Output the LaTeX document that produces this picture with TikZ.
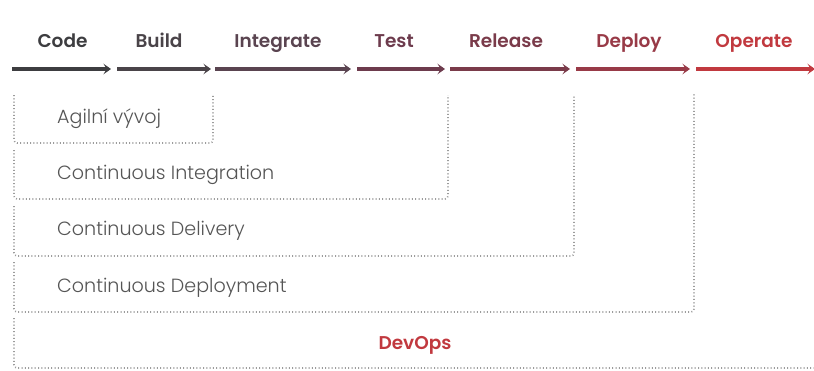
\documentclass[tikz,border=0pt]{standalone}
\usepackage{fontspec}
\setmainfont{Poppins}[BoldFont={Poppins SemiBold}]
\newfontfamily\lightfont{Poppins Light}
\usetikzlibrary{arrows.meta}
\definecolor{cCode}{HTML}{3D3D40}
\definecolor{cBuild}{HTML}{4A4449}
\definecolor{cInt}{HTML}{5A4450}
\definecolor{cTest}{HTML}{6D3B4D}
\definecolor{cRel}{HTML}{7A3B4A}
\definecolor{cDep}{HTML}{983A47}
\definecolor{cOp}{HTML}{C1393F}
\definecolor{dotgray}{HTML}{9C9C9C}
\definecolor{txtgray}{HTML}{555555}
\begin{document}
\begin{tikzpicture}[x=1pt,y=-1pt,
  stage/.style={font=\fontsize{18.5}{20}\selectfont\bfseries, anchor=base, inner sep=0pt},
  flow/.style={line width=3.2pt, -{Stealth[length=7.5pt,width=10.5pt,inset=3.2pt]}},
  zone/.style={draw=dotgray, line width=1.6pt, dash pattern=on 1pt off 2.3pt, rounded corners=3pt},
  zonetext/.style={font=\lightfont\fontsize{19.1}{21}\selectfont, text=txtgray, anchor=base west, inner sep=0pt}]
\useasboundingbox (0,0) rectangle (814,370);
% stage labels
\node[stage, text=cCode] (lCode) at (62.5,47) {Code};
\node[stage, text=cBuild] (lBuild) at (159,47) {Build};
\node[stage, text=cInt] (lInt) at (278,47) {Integrate};
\node[stage, text=cTest] (lTest) at (394,47) {Test};
\node[stage, text=cRel] (lRel) at (506,47) {Release};
\node[stage, text=cDep] (lDep) at (629,47) {Deploy};
\node[stage, text=cOp] (lOp) at (754,47) {Operate};
% arrow endpoints
\coordinate (a0) at (12,69);  \coordinate (a1) at (111,69);
\coordinate (b0) at (117,69); \coordinate (b1) at (211,69);
\coordinate (c0) at (215,69); \coordinate (c1) at (351,69);
\coordinate (d0) at (357,69); \coordinate (d1) at (445,69);
\coordinate (e0) at (450,69); \coordinate (e1) at (570,69);
\coordinate (f0) at (576,69); \coordinate (f1) at (690,69);
\coordinate (g0) at (696,69); \coordinate (g1) at (815,69);
\draw[flow, cCode] (a0) -- (a1);
\draw[flow, cBuild] (b0) -- (b1);
\draw[flow, cInt] (c0) -- (c1);
\draw[flow, cTest] (d0) -- (d1);
\draw[flow, cRel] (e0) -- (e1);
\draw[flow, cDep] (f0) -- (f1);
\draw[flow, cOp] (g0) -- (g1);
% zones
\draw[zone] (14,95) -- (14,143) -- (213,143) -- (213,95);
\draw[zone] (14,150) -- (14,199) -- (448,199) -- (448,95);
\draw[zone] (14,206) -- (14,256) -- (574,256) -- (574,95);
\draw[zone] (14,262) -- (14,312) -- (694,312) -- (694,93);
\draw[zone] (14,318) -- (14,368) -- (816,368);
% zone texts
\node[zonetext] (tAg) at (57,123) {Agilní vývoj};
\node[zonetext] (tCI) at (57,179) {Continuous Integration};
\node[zonetext] (tCDel) at (57,235) {Continuous Delivery};
\node[zonetext] (tCDep) at (57,292) {Continuous Deployment};
\node[stage, text=cOp] (tDevOps) at (415,349) {DevOps};
\end{tikzpicture}
\end{document}
